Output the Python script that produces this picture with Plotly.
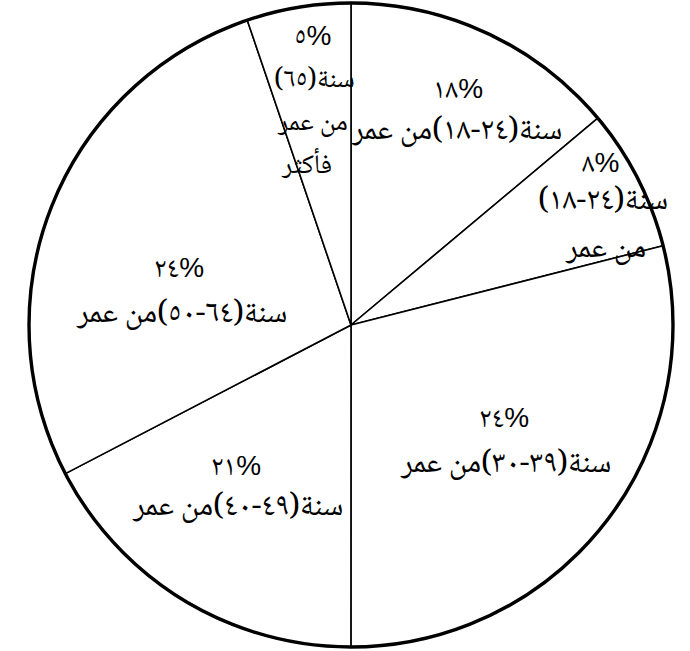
import plotly.graph_objects as go

# ---- data ----
age_groups = ["١٨-٢٤", "١٨-٢٤ (ب)", "٣٠-٣٩", "٤٠-٤٩", "٥٠-٦٤", "٦٥+"]
slice_share = [13.9, 7.14, 28.97, 17.36, 27.42, 5.22]   # drawn slice sizes
pct_labels = ["١٨%", "٨%", "٢٤%", "٢١%", "٢٤%", "٥%"]   # printed percentages
text_lines = [
    ["سنة(٢٤-١٨)من عمر"],
    ["سنة(٢٤-١٨)", "من عمر"],
    ["سنة(٣٩-٣٠)من عمر"],
    ["سنة(٤٩-٤٠)من عمر"],
    ["سنة(٦٤-٥٠)من عمر"],
    ["سنة(٦٥)", "من عمر", "فأكثر"],
]

# ---- layout / style (pixel anchors for each label line) ----
W, H = 690, 651
label_pos = [
    [(458, 88), (456, 132)],
    [(600, 162), (603, 203), (605, 250)],
    [(504, 417), (506, 465)],
    [(236, 465), (237, 508)],
    [(179, 268), (181, 315)],
    [(312, 36), (314, 81), (312, 124), (306, 167)],
]
text_size = [31, 31, 31, 31, 31, 27]
cx, cy, r = 351, 325, 322
dom_x = [(cx - r) / W, (cx + r) / W]
dom_y = [1 - (cy + r) / H, 1 - (cy - r) / H]
FONT = "Noto Naskh Arabic, Noto Sans Arabic, Liberation Serif, DejaVu Sans, serif"
PFONT = "Liberation Sans, Noto Naskh Arabic, DejaVu Sans, sans-serif"
FS_PCT = 28

fig = go.Figure()
fig.add_trace(go.Pie(
    labels=age_groups, values=slice_share, sort=False, direction="clockwise",
    rotation=0, textinfo="none", hoverinfo="label+percent",
    marker=dict(colors=["white"] * len(age_groups), line=dict(color="black", width=1.6)),
    domain=dict(x=dom_x, y=dom_y), showlegend=False,
))
# thicker outer rim
fig.add_trace(go.Pie(
    labels=["rim"], values=[1], textinfo="none", hoverinfo="skip",
    marker=dict(colors=["rgba(0,0,0,0)"], line=dict(color="black", width=3.4)),
    domain=dict(x=dom_x, y=dom_y), showlegend=False,
))

annotations = []
for i in range(len(age_groups)):
    lines = [pct_labels[i]] + text_lines[i]
    for j, (txt, (px, py)) in enumerate(zip(lines, label_pos[i])):
        annotations.append(dict(
            x=px / W, y=1 - py / H, xref="paper", yref="paper",
            text=txt, showarrow=False, xanchor="center", yanchor="middle",
            font=dict(family=PFONT if j == 0 else FONT,
                      size=FS_PCT if j == 0 else text_size[i], color="black"),
        ))

fig.update_layout(
    width=W, height=H, margin=dict(l=0, r=0, t=0, b=0),
    paper_bgcolor="white", plot_bgcolor="white",
    annotations=annotations, showlegend=False,
)
fig.write_html("out.html", config={"displayModeBar": False},
               post_script="document.body.style.margin='0px';")
